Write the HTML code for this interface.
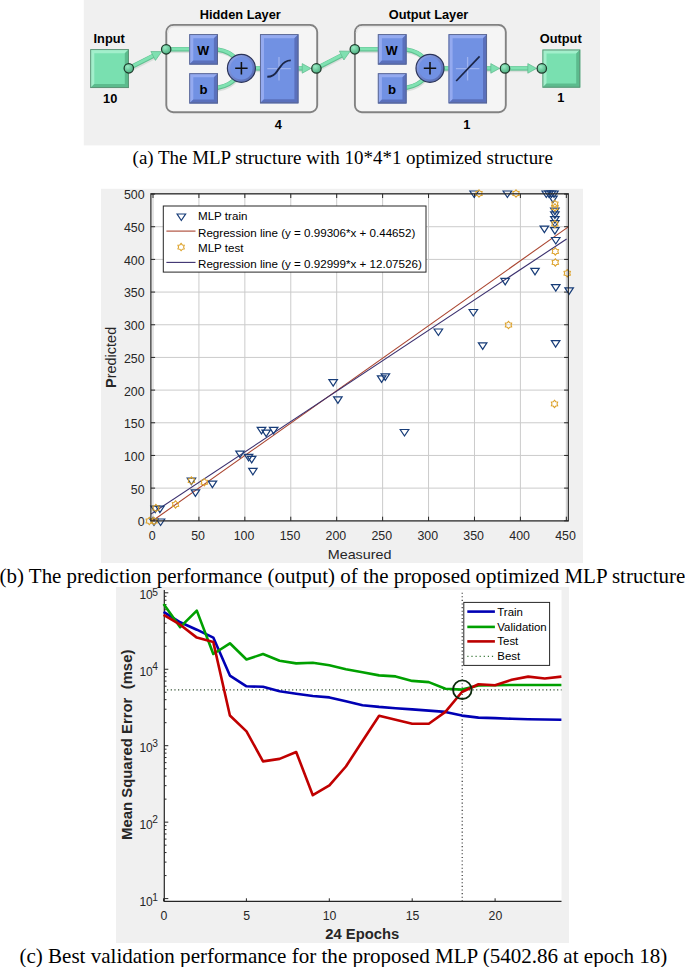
<!DOCTYPE html>
<html><head><meta charset="utf-8">
<style>
html,body{margin:0;padding:0;background:#fff;}
body{width:685px;height:967px;position:relative;overflow:hidden;}
.cap{position:absolute;font-family:"Liberation Serif",serif;color:#000;white-space:nowrap;line-height:1;}
svg{position:absolute;left:0;top:0;}
</style></head><body>
<svg width="685" height="967" viewBox="0 0 685 967">
<defs>
<radialGradient id="gnode" cx="0.38" cy="0.32" r="0.75">
<stop offset="0" stop-color="#98ecc4"/><stop offset="1" stop-color="#47a97a"/>
</radialGradient>
<linearGradient id="gsum" x1="0" y1="0" x2="1" y2="1">
<stop offset="0" stop-color="#93a9ef"/><stop offset="1" stop-color="#4f64ab"/>
</linearGradient>
</defs>
<rect x="83.8" y="0" width="516.2" height="145.4" fill="#f0f0f0"/>
<rect x="166.3" y="25" width="150.9" height="87.2" rx="7" ry="7" fill="#f5f5f5" stroke="#828282" stroke-width="1.9"/>
<path d="M167.8,33 Q168.2,26.6 174.0,26.5 L310.0,26.5" fill="none" stroke="#e4e4e4" stroke-width="1.4"/>
<rect x="354.9" y="25" width="150.9" height="87.2" rx="7" ry="7" fill="#f5f5f5" stroke="#828282" stroke-width="1.9"/>
<path d="M356.4,33 Q356.8,26.6 362.6,26.5 L498.6,26.5" fill="none" stroke="#e4e4e4" stroke-width="1.4"/>
<path d="M128.8,68.3 L155,55" fill="none" stroke="#d9dedb" stroke-width="3" transform="translate(0.6,2.3)"/>
<path d="M166,49.3 L190,49.3" fill="none" stroke="#d9dedb" stroke-width="3" transform="translate(0.6,2.3)"/>
<path d="M217,49.5 C228,51 232,55 236,58.5" fill="none" stroke="#d9dedb" stroke-width="3" transform="translate(0.6,2.3)"/>
<path d="M217,88 C228,86 232,82 236,78.5" fill="none" stroke="#d9dedb" stroke-width="3" transform="translate(0.6,2.3)"/>
<path d="M254,68.4 L261,68.4" fill="none" stroke="#d9dedb" stroke-width="3" transform="translate(0.6,2.3)"/>
<path d="M297.5,68.4 L303,68.4" fill="none" stroke="#d9dedb" stroke-width="3" transform="translate(0.6,2.3)"/>
<path d="M316.3,68.4 L344,54.2" fill="none" stroke="#d9dedb" stroke-width="3" transform="translate(0.6,2.3)"/>
<path d="M354.6,49.3 L378.6,49.3" fill="none" stroke="#d9dedb" stroke-width="3" transform="translate(0.6,2.3)"/>
<path d="M405.6,49.5 C416.6,51 420.6,55 424.6,58.5" fill="none" stroke="#d9dedb" stroke-width="3" transform="translate(0.6,2.3)"/>
<path d="M405.6,88 C416.6,86 420.6,82 424.6,78.5" fill="none" stroke="#d9dedb" stroke-width="3" transform="translate(0.6,2.3)"/>
<path d="M442.6,68.4 L449.6,68.4" fill="none" stroke="#d9dedb" stroke-width="3" transform="translate(0.6,2.3)"/>
<path d="M486.1,68.4 L491.6,68.4" fill="none" stroke="#d9dedb" stroke-width="3" transform="translate(0.6,2.3)"/>
<path d="M505,68.4 L530,68.4" fill="none" stroke="#d9dedb" stroke-width="3" transform="translate(0.6,2.3)"/>
<path d="M128.8,68.3 L155,55" fill="none" stroke="#5fbf90" stroke-width="4.5" stroke-linecap="butt"/><path d="M128.8,68.3 L155,55" fill="none" stroke="#80e2b2" stroke-width="2.9" stroke-linecap="butt" transform="translate(0,-0.35)"/>
<path d="M166,49.3 L190,49.3" fill="none" stroke="#5fbf90" stroke-width="4.5" stroke-linecap="butt"/><path d="M166,49.3 L190,49.3" fill="none" stroke="#80e2b2" stroke-width="2.9" stroke-linecap="butt" transform="translate(0,-0.35)"/>
<path d="M217,49.5 C228,51 232,55 236,58.5" fill="none" stroke="#5fbf90" stroke-width="4.5" stroke-linecap="butt"/><path d="M217,49.5 C228,51 232,55 236,58.5" fill="none" stroke="#80e2b2" stroke-width="2.9" stroke-linecap="butt" transform="translate(0,-0.35)"/>
<path d="M217,88 C228,86 232,82 236,78.5" fill="none" stroke="#5fbf90" stroke-width="4.5" stroke-linecap="butt"/><path d="M217,88 C228,86 232,82 236,78.5" fill="none" stroke="#80e2b2" stroke-width="2.9" stroke-linecap="butt" transform="translate(0,-0.35)"/>
<path d="M254,68.4 L261,68.4" fill="none" stroke="#5fbf90" stroke-width="4.5" stroke-linecap="butt"/><path d="M254,68.4 L261,68.4" fill="none" stroke="#80e2b2" stroke-width="2.9" stroke-linecap="butt" transform="translate(0,-0.35)"/>
<path d="M297.5,68.4 L303,68.4" fill="none" stroke="#5fbf90" stroke-width="4.5" stroke-linecap="butt"/><path d="M297.5,68.4 L303,68.4" fill="none" stroke="#80e2b2" stroke-width="2.9" stroke-linecap="butt" transform="translate(0,-0.35)"/>
<path d="M316.3,68.4 L344,54.2" fill="none" stroke="#5fbf90" stroke-width="4.5" stroke-linecap="butt"/><path d="M316.3,68.4 L344,54.2" fill="none" stroke="#80e2b2" stroke-width="2.9" stroke-linecap="butt" transform="translate(0,-0.35)"/>
<path d="M354.6,49.3 L378.6,49.3" fill="none" stroke="#5fbf90" stroke-width="4.5" stroke-linecap="butt"/><path d="M354.6,49.3 L378.6,49.3" fill="none" stroke="#80e2b2" stroke-width="2.9" stroke-linecap="butt" transform="translate(0,-0.35)"/>
<path d="M405.6,49.5 C416.6,51 420.6,55 424.6,58.5" fill="none" stroke="#5fbf90" stroke-width="4.5" stroke-linecap="butt"/><path d="M405.6,49.5 C416.6,51 420.6,55 424.6,58.5" fill="none" stroke="#80e2b2" stroke-width="2.9" stroke-linecap="butt" transform="translate(0,-0.35)"/>
<path d="M405.6,88 C416.6,86 420.6,82 424.6,78.5" fill="none" stroke="#5fbf90" stroke-width="4.5" stroke-linecap="butt"/><path d="M405.6,88 C416.6,86 420.6,82 424.6,78.5" fill="none" stroke="#80e2b2" stroke-width="2.9" stroke-linecap="butt" transform="translate(0,-0.35)"/>
<path d="M442.6,68.4 L449.6,68.4" fill="none" stroke="#5fbf90" stroke-width="4.5" stroke-linecap="butt"/><path d="M442.6,68.4 L449.6,68.4" fill="none" stroke="#80e2b2" stroke-width="2.9" stroke-linecap="butt" transform="translate(0,-0.35)"/>
<path d="M486.1,68.4 L491.6,68.4" fill="none" stroke="#5fbf90" stroke-width="4.5" stroke-linecap="butt"/><path d="M486.1,68.4 L491.6,68.4" fill="none" stroke="#80e2b2" stroke-width="2.9" stroke-linecap="butt" transform="translate(0,-0.35)"/>
<path d="M505,68.4 L530,68.4" fill="none" stroke="#5fbf90" stroke-width="4.5" stroke-linecap="butt"/><path d="M505,68.4 L530,68.4" fill="none" stroke="#80e2b2" stroke-width="2.9" stroke-linecap="butt" transform="translate(0,-0.35)"/>
<rect x="90.3" y="49.2" width="38.500000000000014" height="38.8" fill="#79e0b0"/>
<polygon points="90.3,49.2 128.8,49.2 124.80000000000001,53.2 94.3,53.2 94.3,84.0 90.3,88" fill="#a2efcb"/>
<polygon points="128.8,49.2 128.8,88 90.3,88 94.3,84.0 124.80000000000001,84.0 124.80000000000001,53.2" fill="#5cbb8d"/>
<rect x="90.7" y="49.6" width="37.70000000000002" height="38.0" fill="none" stroke="#5c8f74" stroke-width="0.9"/>
<rect x="189.3" y="34.2" width="28.599999999999994" height="30.299999999999997" fill="#7191e3"/>
<polygon points="189.3,34.2 217.9,34.2 213.9,38.2 193.3,38.2 193.3,60.5 189.3,64.5" fill="#94aaf0"/>
<polygon points="217.9,34.2 217.9,64.5 189.3,64.5 193.3,60.5 213.9,60.5 213.9,38.2" fill="#5a70bc"/>
<rect x="189.70000000000002" y="34.6" width="27.799999999999994" height="29.499999999999996" fill="none" stroke="#5a648c" stroke-width="0.9"/>
<text x="203.2" y="54.5" font-family='"Liberation Sans", sans-serif' font-size="12.6" font-weight="bold" text-anchor="middle" fill="#000" >W</text>
<rect x="189.3" y="73.3" width="28.599999999999994" height="30.10000000000001" fill="#7191e3"/>
<polygon points="189.3,73.3 217.9,73.3 213.9,77.3 193.3,77.3 193.3,99.4 189.3,103.4" fill="#94aaf0"/>
<polygon points="217.9,73.3 217.9,103.4 189.3,103.4 193.3,99.4 213.9,99.4 213.9,77.3" fill="#5a70bc"/>
<rect x="189.70000000000002" y="73.7" width="27.799999999999994" height="29.300000000000008" fill="none" stroke="#5a648c" stroke-width="0.9"/>
<text x="203.5" y="93.6" font-family='"Liberation Sans", sans-serif' font-size="13.2" font-weight="bold" text-anchor="middle" fill="#000" >b</text>
<circle cx="241.4" cy="68.3" r="14" fill="url(#gsum)" stroke="#2c3458" stroke-width="1.2"/>
<circle cx="241.4" cy="68.3" r="11.2" fill="#7191e3"/>
<path d="M235.2,68.3 L247.6,68.3 M241.4,62.1 L241.4,74.5" stroke="#111" stroke-width="1.55"/>
<rect x="260" y="34.2" width="38.39999999999998" height="69.1" fill="#7191e3"/>
<polygon points="260,34.2 298.4,34.2 294.4,38.2 264.0,38.2 264.0,99.3 260,103.3" fill="#94aaf0"/>
<polygon points="298.4,34.2 298.4,103.3 260,103.3 264.0,99.3 294.4,99.3 294.4,38.2" fill="#5a70bc"/>
<rect x="260.4" y="34.6" width="37.59999999999998" height="68.3" fill="none" stroke="#5a648c" stroke-width="0.9"/>
<path d="M267.3,68.6 L290.8,68.6 M279,57 L279,80.6" stroke="#9db2ef" stroke-width="1.3"/>
<path d="M267.3,76.8 C276,76.8 277,70 279,68.6 C281,66.5 283,60.4 290.8,60.4" fill="none" stroke="#1b2547" stroke-width="1.9"/>
<rect x="377.9" y="34.2" width="28.600000000000023" height="30.299999999999997" fill="#7191e3"/>
<polygon points="377.9,34.2 406.5,34.2 402.5,38.2 381.9,38.2 381.9,60.5 377.9,64.5" fill="#94aaf0"/>
<polygon points="406.5,34.2 406.5,64.5 377.9,64.5 381.9,60.5 402.5,60.5 402.5,38.2" fill="#5a70bc"/>
<rect x="378.29999999999995" y="34.6" width="27.800000000000022" height="29.499999999999996" fill="none" stroke="#5a648c" stroke-width="0.9"/>
<text x="391.8" y="54.5" font-family='"Liberation Sans", sans-serif' font-size="12.6" font-weight="bold" text-anchor="middle" fill="#000" >W</text>
<rect x="377.9" y="73.3" width="28.600000000000023" height="30.10000000000001" fill="#7191e3"/>
<polygon points="377.9,73.3 406.5,73.3 402.5,77.3 381.9,77.3 381.9,99.4 377.9,103.4" fill="#94aaf0"/>
<polygon points="406.5,73.3 406.5,103.4 377.9,103.4 381.9,99.4 402.5,99.4 402.5,77.3" fill="#5a70bc"/>
<rect x="378.29999999999995" y="73.7" width="27.800000000000022" height="29.300000000000008" fill="none" stroke="#5a648c" stroke-width="0.9"/>
<text x="392.1" y="93.6" font-family='"Liberation Sans", sans-serif' font-size="13.2" font-weight="bold" text-anchor="middle" fill="#000" >b</text>
<circle cx="430.0" cy="68.3" r="14" fill="url(#gsum)" stroke="#2c3458" stroke-width="1.2"/>
<circle cx="430.0" cy="68.3" r="11.2" fill="#7191e3"/>
<path d="M423.8,68.3 L436.2,68.3 M430.0,62.1 L430.0,74.5" stroke="#111" stroke-width="1.55"/>
<rect x="448.6" y="34.2" width="38.39999999999998" height="69.1" fill="#7191e3"/>
<polygon points="448.6,34.2 487.0,34.2 483.0,38.2 452.6,38.2 452.6,99.3 448.6,103.3" fill="#94aaf0"/>
<polygon points="487.0,34.2 487.0,103.3 448.6,103.3 452.6,99.3 483.0,99.3 483.0,38.2" fill="#5a70bc"/>
<rect x="449.0" y="34.6" width="37.59999999999998" height="68.3" fill="none" stroke="#5a648c" stroke-width="0.9"/>
<path d="M455.9,68.6 L479.4,68.6 M467.6,57 L467.6,80.6" stroke="#9db2ef" stroke-width="1.3"/>
<path d="M456.2,81.0 L479.6,56.4" fill="none" stroke="#1b2547" stroke-width="1.75"/>
<rect x="542.5" y="49.6" width="37.700000000000045" height="37.99999999999999" fill="#79e0b0"/>
<polygon points="542.5,49.6 580.2,49.6 576.2,53.6 546.5,53.6 546.5,83.6 542.5,87.6" fill="#a2efcb"/>
<polygon points="580.2,49.6 580.2,87.6 542.5,87.6 546.5,83.6 576.2,83.6 576.2,53.6" fill="#5cbb8d"/>
<rect x="542.9" y="50.0" width="36.90000000000005" height="37.199999999999996" fill="none" stroke="#5c8f74" stroke-width="0.9"/>
<polygon points="161.70,51.60 155.42,60.42 150.88,51.51" fill="#7fe0b1" stroke="#5eb88b" stroke-width="0.7" stroke-linejoin="round"/>
<circle cx="128.8" cy="68.3" r="4.7" fill="url(#gnode)" stroke="#1e3a2b" stroke-width="1.25"/>
<polygon points="311.00,68.40 302.20,73.20 302.20,63.60" fill="#7fe0b1" stroke="#5eb88b" stroke-width="0.7" stroke-linejoin="round"/>
<circle cx="166.2" cy="49.3" r="4.7" fill="url(#gnode)" stroke="#1e3a2b" stroke-width="1.25"/>
<circle cx="316.4" cy="68.4" r="4.7" fill="url(#gnode)" stroke="#1e3a2b" stroke-width="1.25"/>
<polygon points="350.20,51.20 343.90,60.01 339.38,51.09" fill="#7fe0b1" stroke="#5eb88b" stroke-width="0.7" stroke-linejoin="round"/>
<polygon points="499.60,68.40 490.80,73.20 490.80,63.60" fill="#7fe0b1" stroke="#5eb88b" stroke-width="0.7" stroke-linejoin="round"/>
<circle cx="354.8" cy="49.3" r="4.7" fill="url(#gnode)" stroke="#1e3a2b" stroke-width="1.25"/>
<circle cx="505.0" cy="68.4" r="4.7" fill="url(#gnode)" stroke="#1e3a2b" stroke-width="1.25"/>
<polygon points="536.60,68.40 527.80,73.20 527.80,63.60" fill="#7fe0b1" stroke="#5eb88b" stroke-width="0.7" stroke-linejoin="round"/>
<circle cx="541.8" cy="68.4" r="4.7" fill="url(#gnode)" stroke="#1e3a2b" stroke-width="1.25"/>
<text x="109.2" y="42.6" font-family='"Liberation Sans", sans-serif' font-size="12.8" font-weight="bold" text-anchor="middle" fill="#000" >Input</text>
<text x="110.2" y="102.6" font-family='"Liberation Sans", sans-serif' font-size="12.8" font-weight="bold" text-anchor="middle" fill="#000" >10</text>
<text x="240.3" y="18.6" font-family='"Liberation Sans", sans-serif' font-size="12.8" font-weight="bold" text-anchor="middle" fill="#000" >Hidden Layer</text>
<text x="278.2" y="129.0" font-family='"Liberation Sans", sans-serif' font-size="12.8" font-weight="bold" text-anchor="middle" fill="#000" >4</text>
<text x="428.5" y="18.6" font-family='"Liberation Sans", sans-serif' font-size="12.8" font-weight="bold" text-anchor="middle" fill="#000" >Output Layer</text>
<text x="466.8" y="129.0" font-family='"Liberation Sans", sans-serif' font-size="12.8" font-weight="bold" text-anchor="middle" fill="#000" >1</text>
<text x="560.7" y="43" font-family='"Liberation Sans", sans-serif' font-size="12.8" font-weight="bold" text-anchor="middle" fill="#000" >Output</text>
<text x="560.8" y="102.2" font-family='"Liberation Sans", sans-serif' font-size="12.8" font-weight="bold" text-anchor="middle" fill="#000" >1</text>
<rect x="101" y="188.8" width="482" height="374.2" fill="#f0f0f0"/>
<rect x="150.9" y="193.8" width="417.4" height="327.09999999999997" fill="#fff"/>
<path d="M153.00,193.8 L153.00,520.9 M198.93,193.8 L198.93,520.9 M244.85,193.8 L244.85,520.9 M290.77,193.8 L290.77,520.9 M336.70,193.8 L336.70,520.9 M382.62,193.8 L382.62,520.9 M428.55,193.8 L428.55,520.9 M474.47,193.8 L474.47,520.9 M520.40,193.8 L520.40,520.9 M566.33,193.8 L566.33,520.9 M150.9,520.80 L568.3,520.80 M150.9,488.12 L568.3,488.12 M150.9,455.45 L568.3,455.45 M150.9,422.77 L568.3,422.77 M150.9,390.10 L568.3,390.10 M150.9,357.42 L568.3,357.42 M150.9,324.75 L568.3,324.75 M150.9,292.07 L568.3,292.07 M150.9,259.40 L568.3,259.40 M150.9,226.72 L568.3,226.72 M150.9,194.05 L568.3,194.05" stroke="#cbcbcb" stroke-width="1"/>
<path d="M153.00,520.9 L153.00,516.6999999999999 M153.00,193.8 L153.00,198.0 M198.93,520.9 L198.93,516.6999999999999 M198.93,193.8 L198.93,198.0 M244.85,520.9 L244.85,516.6999999999999 M244.85,193.8 L244.85,198.0 M290.77,520.9 L290.77,516.6999999999999 M290.77,193.8 L290.77,198.0 M336.70,520.9 L336.70,516.6999999999999 M336.70,193.8 L336.70,198.0 M382.62,520.9 L382.62,516.6999999999999 M382.62,193.8 L382.62,198.0 M428.55,520.9 L428.55,516.6999999999999 M428.55,193.8 L428.55,198.0 M474.47,520.9 L474.47,516.6999999999999 M474.47,193.8 L474.47,198.0 M520.40,520.9 L520.40,516.6999999999999 M520.40,193.8 L520.40,198.0 M566.33,520.9 L566.33,516.6999999999999 M566.33,193.8 L566.33,198.0 M150.9,520.80 L155.1,520.80 M568.3,520.80 L564.0999999999999,520.80 M150.9,488.12 L155.1,488.12 M568.3,488.12 L564.0999999999999,488.12 M150.9,455.45 L155.1,455.45 M568.3,455.45 L564.0999999999999,455.45 M150.9,422.77 L155.1,422.77 M568.3,422.77 L564.0999999999999,422.77 M150.9,390.10 L155.1,390.10 M568.3,390.10 L564.0999999999999,390.10 M150.9,357.42 L155.1,357.42 M568.3,357.42 L564.0999999999999,357.42 M150.9,324.75 L155.1,324.75 M568.3,324.75 L564.0999999999999,324.75 M150.9,292.07 L155.1,292.07 M568.3,292.07 L564.0999999999999,292.07 M150.9,259.40 L155.1,259.40 M568.3,259.40 L564.0999999999999,259.40 M150.9,226.72 L155.1,226.72 M568.3,226.72 L564.0999999999999,226.72 M150.9,194.05 L155.1,194.05 M568.3,194.05 L564.0999999999999,194.05" stroke="#262626" stroke-width="1"/>
<path d="M153.00,520.51 L568.30,226.85" stroke="#aa4530" stroke-width="1.1"/>
<path d="M150.90,514.12 L566.60,239.00" stroke="#3a2f6e" stroke-width="1.1"/>
<g id="bm"><path d="M257.2,427.4 L265.8,427.4 L261.5,433.9 Z" fill="none" stroke="#173c78" stroke-width="1.2" stroke-linejoin="miter"/>
<path d="M261.9,430.2 L270.4,430.2 L266.2,436.7 Z" fill="none" stroke="#173c78" stroke-width="1.2" stroke-linejoin="miter"/>
<path d="M269.4,427.4 L277.9,427.4 L273.6,433.9 Z" fill="none" stroke="#173c78" stroke-width="1.2" stroke-linejoin="miter"/>
<path d="M235.8,451.2 L244.2,451.2 L240.0,457.7 Z" fill="none" stroke="#173c78" stroke-width="1.2" stroke-linejoin="miter"/>
<path d="M244.3,454.3 L252.8,454.3 L248.6,460.8 Z" fill="none" stroke="#173c78" stroke-width="1.2" stroke-linejoin="miter"/>
<path d="M247.4,456.4 L255.9,456.4 L251.7,462.9 Z" fill="none" stroke="#173c78" stroke-width="1.2" stroke-linejoin="miter"/>
<path d="M248.7,468.3 L257.1,468.3 L252.9,474.8 Z" fill="none" stroke="#173c78" stroke-width="1.2" stroke-linejoin="miter"/>
<path d="M187.2,478.1 L195.7,478.1 L191.4,484.6 Z" fill="none" stroke="#173c78" stroke-width="1.2" stroke-linejoin="miter"/>
<path d="M208.2,481.1 L216.7,481.1 L212.4,487.6 Z" fill="none" stroke="#173c78" stroke-width="1.2" stroke-linejoin="miter"/>
<path d="M191.2,489.8 L199.7,489.8 L195.4,496.3 Z" fill="none" stroke="#173c78" stroke-width="1.2" stroke-linejoin="miter"/>
<path d="M150.9,506.1 L159.4,506.1 L155.2,512.6 Z" fill="none" stroke="#173c78" stroke-width="1.2" stroke-linejoin="miter"/>
<path d="M155.7,506.1 L164.2,506.1 L159.9,512.6 Z" fill="none" stroke="#173c78" stroke-width="1.2" stroke-linejoin="miter"/>
<path d="M149.8,519.0 L158.2,519.0 L154.0,525.5 Z" fill="none" stroke="#173c78" stroke-width="1.2" stroke-linejoin="miter"/>
<path d="M156.3,519.0 L164.8,519.0 L160.6,525.5 Z" fill="none" stroke="#173c78" stroke-width="1.2" stroke-linejoin="miter"/>
<path d="M328.9,379.7 L337.4,379.7 L333.2,386.2 Z" fill="none" stroke="#173c78" stroke-width="1.2" stroke-linejoin="miter"/>
<path d="M333.6,396.8 L342.1,396.8 L337.9,403.3 Z" fill="none" stroke="#173c78" stroke-width="1.2" stroke-linejoin="miter"/>
<path d="M377.4,375.8 L385.9,375.8 L381.6,382.3 Z" fill="none" stroke="#173c78" stroke-width="1.2" stroke-linejoin="miter"/>
<path d="M381.1,373.9 L389.6,373.9 L385.3,380.4 Z" fill="none" stroke="#173c78" stroke-width="1.2" stroke-linejoin="miter"/>
<path d="M400.2,429.5 L408.8,429.5 L404.5,436.0 Z" fill="none" stroke="#173c78" stroke-width="1.2" stroke-linejoin="miter"/>
<path d="M434.1,329.0 L442.6,329.0 L438.4,335.5 Z" fill="none" stroke="#173c78" stroke-width="1.2" stroke-linejoin="miter"/>
<path d="M469.9,191.0 L478.4,191.0 L474.2,197.5 Z" fill="none" stroke="#173c78" stroke-width="1.2" stroke-linejoin="miter"/>
<path d="M503.1,191.0 L511.6,191.0 L507.4,197.5 Z" fill="none" stroke="#173c78" stroke-width="1.2" stroke-linejoin="miter"/>
<path d="M542.0,191.0 L550.5,191.0 L546.3,197.5 Z" fill="none" stroke="#173c78" stroke-width="1.2" stroke-linejoin="miter"/>
<path d="M544.8,191.0 L553.2,191.0 L549.0,197.5 Z" fill="none" stroke="#173c78" stroke-width="1.2" stroke-linejoin="miter"/>
<path d="M547.2,191.0 L555.8,191.0 L551.5,197.5 Z" fill="none" stroke="#173c78" stroke-width="1.2" stroke-linejoin="miter"/>
<path d="M549.8,191.0 L558.2,191.0 L554.0,197.5 Z" fill="none" stroke="#173c78" stroke-width="1.2" stroke-linejoin="miter"/>
<path d="M548.8,196.2 L557.2,196.2 L553.0,202.7 Z" fill="none" stroke="#173c78" stroke-width="1.2" stroke-linejoin="miter"/>
<path d="M550.6,208.1 L559.1,208.1 L554.9,214.6 Z" fill="none" stroke="#173c78" stroke-width="1.2" stroke-linejoin="miter"/>
<path d="M550.6,211.9 L559.1,211.9 L554.9,218.4 Z" fill="none" stroke="#173c78" stroke-width="1.2" stroke-linejoin="miter"/>
<path d="M550.6,216.7 L559.1,216.7 L554.9,223.2 Z" fill="none" stroke="#173c78" stroke-width="1.2" stroke-linejoin="miter"/>
<path d="M550.6,220.5 L559.1,220.5 L554.9,227.0 Z" fill="none" stroke="#173c78" stroke-width="1.2" stroke-linejoin="miter"/>
<path d="M540.1,226.1 L548.6,226.1 L544.4,232.6 Z" fill="none" stroke="#173c78" stroke-width="1.2" stroke-linejoin="miter"/>
<path d="M550.6,227.7 L559.1,227.7 L554.9,234.2 Z" fill="none" stroke="#173c78" stroke-width="1.2" stroke-linejoin="miter"/>
<path d="M551.5,237.5 L560.0,237.5 L555.8,244.0 Z" fill="none" stroke="#173c78" stroke-width="1.2" stroke-linejoin="miter"/>
<path d="M530.8,268.3 L539.2,268.3 L535.0,274.8 Z" fill="none" stroke="#173c78" stroke-width="1.2" stroke-linejoin="miter"/>
<path d="M500.9,278.3 L509.4,278.3 L505.2,284.8 Z" fill="none" stroke="#173c78" stroke-width="1.2" stroke-linejoin="miter"/>
<path d="M551.5,284.6 L560.0,284.6 L555.8,291.1 Z" fill="none" stroke="#173c78" stroke-width="1.2" stroke-linejoin="miter"/>
<path d="M564.9,287.8 L573.4,287.8 L569.1,294.3 Z" fill="none" stroke="#173c78" stroke-width="1.2" stroke-linejoin="miter"/>
<path d="M469.1,309.5 L477.6,309.5 L473.3,316.0 Z" fill="none" stroke="#173c78" stroke-width="1.2" stroke-linejoin="miter"/>
<path d="M478.4,342.9 L486.9,342.9 L482.7,349.4 Z" fill="none" stroke="#173c78" stroke-width="1.2" stroke-linejoin="miter"/>
<path d="M551.4,340.7 L559.9,340.7 L555.6,347.2 Z" fill="none" stroke="#173c78" stroke-width="1.2" stroke-linejoin="miter"/>
<polygon points="191.40,476.90 192.66,478.42 194.60,478.75 193.92,480.60 194.60,482.45 192.66,482.78 191.40,484.30 190.14,482.78 188.20,482.45 188.88,480.60 188.20,478.75 190.14,478.42" fill="none" stroke="#dda22a" stroke-width="1.05" stroke-linejoin="miter"/>
<polygon points="204.30,478.50 205.56,480.02 207.50,480.35 206.82,482.20 207.50,484.05 205.56,484.38 204.30,485.90 203.04,484.38 201.10,484.05 201.78,482.20 201.10,480.35 203.04,480.02" fill="none" stroke="#dda22a" stroke-width="1.05" stroke-linejoin="miter"/>
<polygon points="175.50,500.70 176.76,502.22 178.70,502.55 178.02,504.40 178.70,506.25 176.76,506.58 175.50,508.10 174.24,506.58 172.30,506.25 172.98,504.40 172.30,502.55 174.24,502.22" fill="none" stroke="#dda22a" stroke-width="1.05" stroke-linejoin="miter"/>
<polygon points="155.90,504.30 157.16,505.82 159.10,506.15 158.42,508.00 159.10,509.85 157.16,510.18 155.90,511.70 154.64,510.18 152.70,509.85 153.38,508.00 152.70,506.15 154.64,505.82" fill="none" stroke="#dda22a" stroke-width="1.05" stroke-linejoin="miter"/>
<polygon points="149.30,517.30 150.56,518.82 152.50,519.15 151.82,521.00 152.50,522.85 150.56,523.18 149.30,524.70 148.04,523.18 146.10,522.85 146.78,521.00 146.10,519.15 148.04,518.82" fill="none" stroke="#dda22a" stroke-width="1.05" stroke-linejoin="miter"/>
<polygon points="154.00,517.30 155.26,518.82 157.20,519.15 156.52,521.00 157.20,522.85 155.26,523.18 154.00,524.70 152.74,523.18 150.80,522.85 151.48,521.00 150.80,519.15 152.74,518.82" fill="none" stroke="#dda22a" stroke-width="1.05" stroke-linejoin="miter"/>
<polygon points="479.00,189.80 480.26,191.32 482.20,191.65 481.52,193.50 482.20,195.35 480.26,195.68 479.00,197.20 477.74,195.68 475.80,195.35 476.48,193.50 475.80,191.65 477.74,191.32" fill="none" stroke="#dda22a" stroke-width="1.05" stroke-linejoin="miter"/>
<polygon points="516.00,189.80 517.26,191.32 519.20,191.65 518.52,193.50 519.20,195.35 517.26,195.68 516.00,197.20 514.74,195.68 512.80,195.35 513.48,193.50 512.80,191.65 514.74,191.32" fill="none" stroke="#dda22a" stroke-width="1.05" stroke-linejoin="miter"/>
<polygon points="554.90,200.30 556.16,201.82 558.10,202.15 557.42,204.00 558.10,205.85 556.16,206.18 554.90,207.70 553.64,206.18 551.70,205.85 552.38,204.00 551.70,202.15 553.64,201.82" fill="none" stroke="#dda22a" stroke-width="1.05" stroke-linejoin="miter"/>
<polygon points="554.90,203.70 556.16,205.22 558.10,205.55 557.42,207.40 558.10,209.25 556.16,209.58 554.90,211.10 553.64,209.58 551.70,209.25 552.38,207.40 551.70,205.55 553.64,205.22" fill="none" stroke="#dda22a" stroke-width="1.05" stroke-linejoin="miter"/>
<polygon points="554.90,220.30 556.16,221.82 558.10,222.15 557.42,224.00 558.10,225.85 556.16,226.18 554.90,227.70 553.64,226.18 551.70,225.85 552.38,224.00 551.70,222.15 553.64,221.82" fill="none" stroke="#dda22a" stroke-width="1.05" stroke-linejoin="miter"/>
<polygon points="555.30,247.70 556.56,249.22 558.50,249.55 557.82,251.40 558.50,253.25 556.56,253.58 555.30,255.10 554.04,253.58 552.10,253.25 552.78,251.40 552.10,249.55 554.04,249.22" fill="none" stroke="#dda22a" stroke-width="1.05" stroke-linejoin="miter"/>
<polygon points="555.30,258.70 556.56,260.22 558.50,260.55 557.82,262.40 558.50,264.25 556.56,264.58 555.30,266.10 554.04,264.58 552.10,264.25 552.78,262.40 552.10,260.55 554.04,260.22" fill="none" stroke="#dda22a" stroke-width="1.05" stroke-linejoin="miter"/>
<polygon points="567.20,269.50 568.46,271.02 570.40,271.35 569.72,273.20 570.40,275.05 568.46,275.38 567.20,276.90 565.94,275.38 564.00,275.05 564.68,273.20 564.00,271.35 565.94,271.02" fill="none" stroke="#dda22a" stroke-width="1.05" stroke-linejoin="miter"/>
<polygon points="508.50,321.30 509.76,322.82 511.70,323.15 511.02,325.00 511.70,326.85 509.76,327.18 508.50,328.70 507.24,327.18 505.30,326.85 505.98,325.00 505.30,323.15 507.24,322.82" fill="none" stroke="#dda22a" stroke-width="1.05" stroke-linejoin="miter"/>
<polygon points="554.50,400.20 555.76,401.72 557.70,402.05 557.02,403.90 557.70,405.75 555.76,406.08 554.50,407.60 553.24,406.08 551.30,405.75 551.98,403.90 551.30,402.05 553.24,401.72" fill="none" stroke="#dda22a" stroke-width="1.05" stroke-linejoin="miter"/></g>
<rect x="150.9" y="193.8" width="417.4" height="327.09999999999997" fill="none" stroke="#262626" stroke-width="1.2"/>
<text x="152.20" y="539.8" font-family='"Liberation Sans", sans-serif' font-size="12.4" font-weight="normal" text-anchor="middle" fill="#262626" textLength="6.90" lengthAdjust="spacingAndGlyphs" >0</text>
<text x="198.12" y="539.8" font-family='"Liberation Sans", sans-serif' font-size="12.4" font-weight="normal" text-anchor="middle" fill="#262626" textLength="13.79" lengthAdjust="spacingAndGlyphs" >50</text>
<text x="244.05" y="539.8" font-family='"Liberation Sans", sans-serif' font-size="12.4" font-weight="normal" text-anchor="middle" fill="#262626" textLength="20.69" lengthAdjust="spacingAndGlyphs" >100</text>
<text x="289.97" y="539.8" font-family='"Liberation Sans", sans-serif' font-size="12.4" font-weight="normal" text-anchor="middle" fill="#262626" textLength="20.69" lengthAdjust="spacingAndGlyphs" >150</text>
<text x="335.90" y="539.8" font-family='"Liberation Sans", sans-serif' font-size="12.4" font-weight="normal" text-anchor="middle" fill="#262626" textLength="20.69" lengthAdjust="spacingAndGlyphs" >200</text>
<text x="381.82" y="539.8" font-family='"Liberation Sans", sans-serif' font-size="12.4" font-weight="normal" text-anchor="middle" fill="#262626" textLength="20.69" lengthAdjust="spacingAndGlyphs" >250</text>
<text x="427.75" y="539.8" font-family='"Liberation Sans", sans-serif' font-size="12.4" font-weight="normal" text-anchor="middle" fill="#262626" textLength="20.69" lengthAdjust="spacingAndGlyphs" >300</text>
<text x="473.67" y="539.8" font-family='"Liberation Sans", sans-serif' font-size="12.4" font-weight="normal" text-anchor="middle" fill="#262626" textLength="20.69" lengthAdjust="spacingAndGlyphs" >350</text>
<text x="519.60" y="539.8" font-family='"Liberation Sans", sans-serif' font-size="12.4" font-weight="normal" text-anchor="middle" fill="#262626" textLength="20.69" lengthAdjust="spacingAndGlyphs" >400</text>
<text x="565.53" y="539.8" font-family='"Liberation Sans", sans-serif' font-size="12.4" font-weight="normal" text-anchor="middle" fill="#262626" textLength="20.69" lengthAdjust="spacingAndGlyphs" >450</text>
<text x="144.6" y="526.20" font-family='"Liberation Sans", sans-serif' font-size="12.4" font-weight="normal" text-anchor="end" fill="#262626" textLength="6.90" lengthAdjust="spacingAndGlyphs" >0</text>
<text x="144.6" y="493.52" font-family='"Liberation Sans", sans-serif' font-size="12.4" font-weight="normal" text-anchor="end" fill="#262626" textLength="13.79" lengthAdjust="spacingAndGlyphs" >50</text>
<text x="144.6" y="460.85" font-family='"Liberation Sans", sans-serif' font-size="12.4" font-weight="normal" text-anchor="end" fill="#262626" textLength="20.69" lengthAdjust="spacingAndGlyphs" >100</text>
<text x="144.6" y="428.17" font-family='"Liberation Sans", sans-serif' font-size="12.4" font-weight="normal" text-anchor="end" fill="#262626" textLength="20.69" lengthAdjust="spacingAndGlyphs" >150</text>
<text x="144.6" y="395.50" font-family='"Liberation Sans", sans-serif' font-size="12.4" font-weight="normal" text-anchor="end" fill="#262626" textLength="20.69" lengthAdjust="spacingAndGlyphs" >200</text>
<text x="144.6" y="362.82" font-family='"Liberation Sans", sans-serif' font-size="12.4" font-weight="normal" text-anchor="end" fill="#262626" textLength="20.69" lengthAdjust="spacingAndGlyphs" >250</text>
<text x="144.6" y="330.15" font-family='"Liberation Sans", sans-serif' font-size="12.4" font-weight="normal" text-anchor="end" fill="#262626" textLength="20.69" lengthAdjust="spacingAndGlyphs" >300</text>
<text x="144.6" y="297.47" font-family='"Liberation Sans", sans-serif' font-size="12.4" font-weight="normal" text-anchor="end" fill="#262626" textLength="20.69" lengthAdjust="spacingAndGlyphs" >350</text>
<text x="144.6" y="264.80" font-family='"Liberation Sans", sans-serif' font-size="12.4" font-weight="normal" text-anchor="end" fill="#262626" textLength="20.69" lengthAdjust="spacingAndGlyphs" >400</text>
<text x="144.6" y="232.12" font-family='"Liberation Sans", sans-serif' font-size="12.4" font-weight="normal" text-anchor="end" fill="#262626" textLength="20.69" lengthAdjust="spacingAndGlyphs" >450</text>
<text x="144.6" y="199.45" font-family='"Liberation Sans", sans-serif' font-size="12.4" font-weight="normal" text-anchor="end" fill="#262626" textLength="20.69" lengthAdjust="spacingAndGlyphs" >500</text>
<text x="359.6" y="558.8" font-family='"Liberation Sans", sans-serif' font-size="13.4" font-weight="normal" text-anchor="middle" fill="#262626" textLength="63.76" lengthAdjust="spacingAndGlyphs" >Measured</text>
<text x="0" y="0" font-family='"Liberation Sans", sans-serif' font-size="14.5" fill="#262626" text-anchor="middle" transform="translate(116.4,357.4) rotate(-90)"><tspan font-weight="bold">P</tspan>redicted</text>
<rect x="163.3" y="206" width="262.7" height="66.1" fill="#fff" stroke="#262626" stroke-width="1"/>
<path d="M177.1,214.0 L185.6,214.0 L181.3,220.5 Z" fill="none" stroke="#173c78" stroke-width="1.2" stroke-linejoin="miter"/>
<path d="M166.4,231.1 L195.5,231.1" stroke="#aa4530" stroke-width="1.1"/>
<polygon points="181.10,243.40 182.36,244.92 184.30,245.25 183.62,247.10 184.30,248.95 182.36,249.28 181.10,250.80 179.84,249.28 177.90,248.95 178.58,247.10 177.90,245.25 179.84,244.92" fill="none" stroke="#dda22a" stroke-width="1.05" stroke-linejoin="miter"/>
<path d="M166.4,262.4 L195.5,262.4" stroke="#3a2f6e" stroke-width="1.1"/>
<text x="198.0" y="220.4" font-family='"Liberation Sans", sans-serif' font-size="11.6" font-weight="normal" text-anchor="start" fill="#000" textLength="49.43" lengthAdjust="spacingAndGlyphs" >MLP train</text>
<text x="198.0" y="236.8" font-family='"Liberation Sans", sans-serif' font-size="11.6" font-weight="normal" text-anchor="start" fill="#000" textLength="217.32" lengthAdjust="spacingAndGlyphs" >Regression line (y = 0.99306*x + 0.44652)</text>
<text x="198.0" y="251.7" font-family='"Liberation Sans", sans-serif' font-size="11.6" font-weight="normal" text-anchor="start" fill="#000" textLength="45.56" lengthAdjust="spacingAndGlyphs" >MLP test</text>
<text x="198.0" y="267.5" font-family='"Liberation Sans", sans-serif' font-size="11.6" font-weight="normal" text-anchor="start" fill="#000" textLength="223.77" lengthAdjust="spacingAndGlyphs" >Regression line (y = 0.92999*x + 12.07526)</text>
<rect x="116" y="587" width="453" height="356" fill="#f0f0f0"/>
<rect x="164.3" y="590" width="397.2" height="311.29999999999995" fill="#fff"/>
<path d="M164.3,590 L164.3,901.3 L561.5,901.3" fill="none" stroke="#262626" stroke-width="1.2"/>
<path d="M163.50,901.3 L163.50,898.3 M246.40,901.3 L246.40,898.3 M329.30,901.3 L329.30,898.3 M412.20,901.3 L412.20,898.3 M495.10,901.3 L495.10,898.3 M164.3,898.60 L168.3,898.60 M164.3,875.59 L166.5,875.59 M164.3,862.12 L166.5,862.12 M164.3,852.57 L166.5,852.57 M164.3,845.16 L166.5,845.16 M164.3,839.11 L166.5,839.11 M164.3,833.99 L166.5,833.99 M164.3,829.56 L166.5,829.56 M164.3,825.65 L166.5,825.65 M164.3,822.15 L168.3,822.15 M164.3,799.14 L166.5,799.14 M164.3,785.67 L166.5,785.67 M164.3,776.12 L166.5,776.12 M164.3,768.71 L166.5,768.71 M164.3,762.66 L166.5,762.66 M164.3,757.54 L166.5,757.54 M164.3,753.11 L166.5,753.11 M164.3,749.20 L166.5,749.20 M164.3,745.70 L168.3,745.70 M164.3,722.69 L166.5,722.69 M164.3,709.22 L166.5,709.22 M164.3,699.67 L166.5,699.67 M164.3,692.26 L166.5,692.26 M164.3,686.21 L166.5,686.21 M164.3,681.09 L166.5,681.09 M164.3,676.66 L166.5,676.66 M164.3,672.75 L166.5,672.75 M164.3,669.25 L168.3,669.25 M164.3,646.24 L166.5,646.24 M164.3,632.77 L166.5,632.77 M164.3,623.22 L166.5,623.22 M164.3,615.81 L166.5,615.81 M164.3,609.76 L166.5,609.76 M164.3,604.64 L166.5,604.64 M164.3,600.21 L166.5,600.21 M164.3,596.30 L166.5,596.30 M164.3,592.80 L168.3,592.80" stroke="#262626" stroke-width="1"/>
<g id="cl"><g>
<path d="M164.3,689.9 L561.5,689.9" stroke="#1e3f1e" stroke-width="1.15" stroke-dasharray="1.1 2.58" stroke-dashoffset="0.91"/>
<path d="M462.2,590 L462.2,901.3" stroke="#2c2c2c" stroke-width="1.15" stroke-dasharray="1.1 2.52" stroke-dashoffset="0.99"/>
<path d="M163.6,611.8 L180.2,622.3 L196.8,629.7 L213.3,637.6 L229.9,675.6 L246.5,686.3 L263.0,686.8 L279.6,691.2 L296.2,693.7 L312.8,696.0 L329.4,697.4 L345.9,701.2 L362.5,705.2 L379.1,706.9 L395.6,708.2 L412.2,709.4 L428.8,710.6 L445.4,711.9 L461.9,715.6 L478.5,717.6 L495.1,718.1 L511.7,718.8 L528.2,719.2 L544.8,719.5 L561.4,719.7" fill="none" stroke="#0000b4" stroke-width="2.6" stroke-linejoin="round"/>
<path d="M163.6,604.1 L180.2,627.2 L196.8,610.6 L213.3,654.0 L229.9,643.3 L246.5,659.5 L263.0,654.0 L279.6,660.7 L296.2,663.4 L312.8,662.7 L329.4,665.2 L345.9,669.2 L362.5,672.2 L379.1,675.4 L395.6,676.4 L412.2,680.9 L428.8,682.1 L445.4,688.8 L461.9,689.6 L478.5,685.5 L495.1,685.2 L511.7,685.0 L528.2,685.0 L544.8,685.0 L561.4,685.0" fill="none" stroke="#00a000" stroke-width="2.6" stroke-linejoin="round"/>
<path d="M163.6,614.8 L180.2,624.7 L196.8,637.6 L213.3,642.1 L229.9,715.5 L246.5,731.4 L263.0,761.4 L279.6,758.9 L296.2,752.0 L312.8,795.2 L329.4,785.4 L345.9,766.5 L362.5,741.0 L379.1,715.7 L395.6,719.8 L412.2,723.8 L428.8,723.8 L445.4,711.9 L461.9,692.0 L478.5,684.2 L495.1,685.2 L511.7,679.8 L528.2,676.6 L544.8,678.5 L561.4,676.6" fill="none" stroke="#c00000" stroke-width="2.6" stroke-linejoin="round"/>
<circle cx="462.3" cy="689.7" r="9.3" fill="none" stroke="#0c2a0c" stroke-width="1.8"/>
</g></g>
<text x="163.80" y="919.7" font-family='"Liberation Sans", sans-serif' font-size="12.3" font-weight="normal" text-anchor="middle" fill="#262626" textLength="6.84" lengthAdjust="spacingAndGlyphs" >0</text>
<text x="246.70" y="919.7" font-family='"Liberation Sans", sans-serif' font-size="12.3" font-weight="normal" text-anchor="middle" fill="#262626" textLength="6.84" lengthAdjust="spacingAndGlyphs" >5</text>
<text x="329.60" y="919.7" font-family='"Liberation Sans", sans-serif' font-size="12.3" font-weight="normal" text-anchor="middle" fill="#262626" textLength="13.68" lengthAdjust="spacingAndGlyphs" >10</text>
<text x="412.50" y="919.7" font-family='"Liberation Sans", sans-serif' font-size="12.3" font-weight="normal" text-anchor="middle" fill="#262626" textLength="13.68" lengthAdjust="spacingAndGlyphs" >15</text>
<text x="495.40" y="919.7" font-family='"Liberation Sans", sans-serif' font-size="12.3" font-weight="normal" text-anchor="middle" fill="#262626" textLength="13.68" lengthAdjust="spacingAndGlyphs" >20</text>
<text x="152.8" y="905.80" font-family='"Liberation Sans", sans-serif' font-size="12.0" font-weight="normal" text-anchor="end" fill="#262626" textLength="13.35" lengthAdjust="spacingAndGlyphs" >10</text>
<text x="152.3" y="900.60" font-family='"Liberation Sans", sans-serif' font-size="10.0" font-weight="normal" text-anchor="start" fill="#262626" textLength="5.67" lengthAdjust="spacingAndGlyphs" >1</text>
<text x="152.8" y="828.55" font-family='"Liberation Sans", sans-serif' font-size="12.0" font-weight="normal" text-anchor="end" fill="#262626" textLength="13.35" lengthAdjust="spacingAndGlyphs" >10</text>
<text x="152.3" y="823.05" font-family='"Liberation Sans", sans-serif' font-size="10.0" font-weight="normal" text-anchor="start" fill="#262626" textLength="5.67" lengthAdjust="spacingAndGlyphs" >2</text>
<text x="152.8" y="752.10" font-family='"Liberation Sans", sans-serif' font-size="12.0" font-weight="normal" text-anchor="end" fill="#262626" textLength="13.35" lengthAdjust="spacingAndGlyphs" >10</text>
<text x="152.3" y="746.60" font-family='"Liberation Sans", sans-serif' font-size="10.0" font-weight="normal" text-anchor="start" fill="#262626" textLength="5.67" lengthAdjust="spacingAndGlyphs" >3</text>
<text x="152.8" y="675.65" font-family='"Liberation Sans", sans-serif' font-size="12.0" font-weight="normal" text-anchor="end" fill="#262626" textLength="13.35" lengthAdjust="spacingAndGlyphs" >10</text>
<text x="152.3" y="670.15" font-family='"Liberation Sans", sans-serif' font-size="10.0" font-weight="normal" text-anchor="start" fill="#262626" textLength="5.67" lengthAdjust="spacingAndGlyphs" >4</text>
<text x="152.8" y="599.20" font-family='"Liberation Sans", sans-serif' font-size="12.0" font-weight="normal" text-anchor="end" fill="#262626" textLength="13.35" lengthAdjust="spacingAndGlyphs" >10</text>
<text x="152.3" y="595.80" font-family='"Liberation Sans", sans-serif' font-size="10.0" font-weight="normal" text-anchor="start" fill="#262626" textLength="5.67" lengthAdjust="spacingAndGlyphs" >5</text>
<text x="362.2" y="938.8" font-family='"Liberation Sans", sans-serif' font-size="14" font-weight="bold" text-anchor="middle" fill="#262626" textLength="73.95" lengthAdjust="spacingAndGlyphs" >24 Epochs</text>
<text x="0" y="0" font-family='"Liberation Sans", sans-serif' font-size="14" font-weight="bold" text-anchor="middle" fill="#262626" textLength="190.39" lengthAdjust="spacingAndGlyphs" transform="translate(131.6,744.8) rotate(-90)">Mean Squared Error&#160;&#160;(mse)</text>
<rect x="463.8" y="602.4" width="85.8" height="63" fill="#fff" stroke="#262626" stroke-width="1"/>
<path d="M467.3,611.6 L494.9,611.6" stroke="#0000b4" stroke-width="2.6"/>
<path d="M467.3,626.9 L494.9,626.9" stroke="#00a000" stroke-width="2.6"/>
<path d="M467.3,641.4 L494.9,641.4" stroke="#bb0000" stroke-width="2.6"/>
<path d="M467.3,656.3 L494.9,656.3" stroke="#3b7a3b" stroke-width="1.2" stroke-dasharray="1.2 2.9"/>
<text x="497.3" y="615.5" font-family='"Liberation Sans", sans-serif' font-size="10.9" font-weight="normal" text-anchor="start" fill="#000" textLength="25.65" lengthAdjust="spacingAndGlyphs" >Train</text>
<text x="497.3" y="630.6" font-family='"Liberation Sans", sans-serif' font-size="10.9" font-weight="normal" text-anchor="start" fill="#000" textLength="49.42" lengthAdjust="spacingAndGlyphs" >Validation</text>
<text x="497.3" y="645.3" font-family='"Liberation Sans", sans-serif' font-size="10.9" font-weight="normal" text-anchor="start" fill="#000" textLength="20.99" lengthAdjust="spacingAndGlyphs" >Test</text>
<text x="497.3" y="660.2" font-family='"Liberation Sans", sans-serif' font-size="10.9" font-weight="normal" text-anchor="start" fill="#000" textLength="22.90" lengthAdjust="spacingAndGlyphs" >Best</text>
</svg>
<div class="cap" style="left:132.6px;top:149px;font-size:18.96px">(a) The MLP structure with 10*4*1 optimized structure</div>
<div class="cap" style="left:-0.4px;top:566px;font-size:20.93px">(b) The prediction performance (output) of the proposed optimized MLP structure</div>
<div class="cap" style="left:19.4px;top:946px;font-size:21.05px">(c) Best validation performance for the proposed MLP (5402.86 at epoch 18)</div>
</body></html>
